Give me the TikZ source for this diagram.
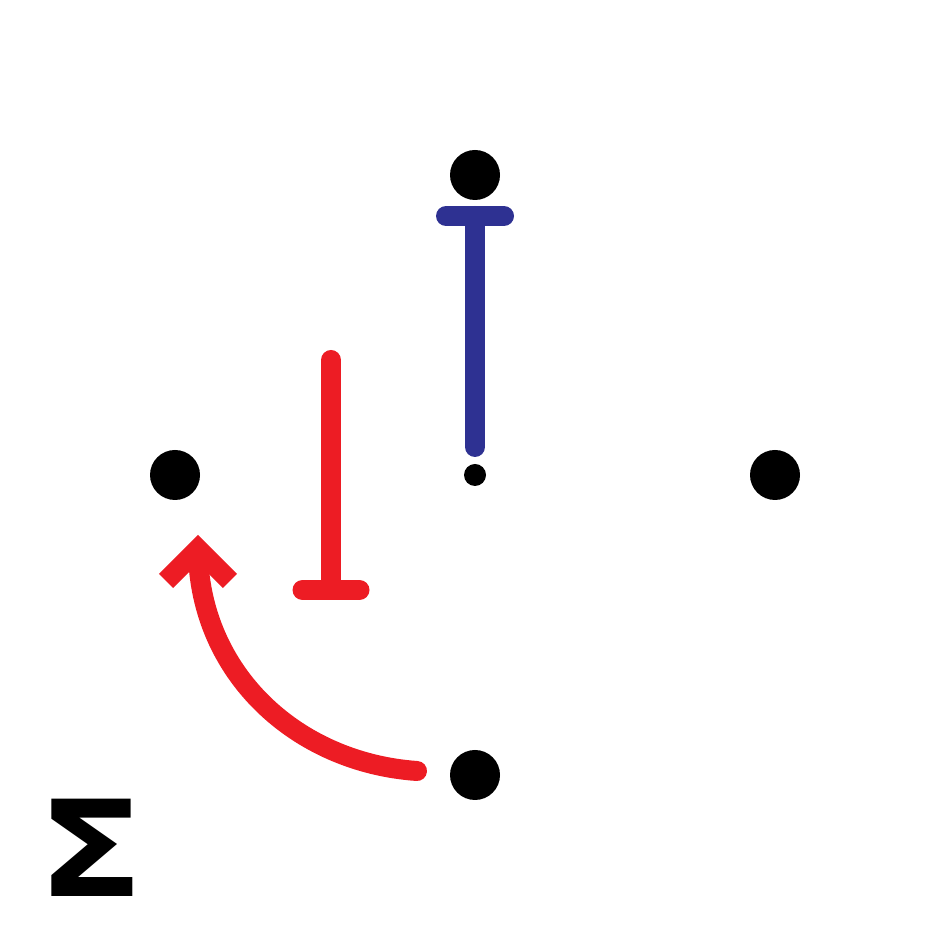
\documentclass[tikz,border=0pt]{standalone}
\usepackage{fontspec}
\newfontfamily\sigmafont{DejaVu Sans}
\usepackage{xcolor}
\usetikzlibrary{arrows.meta}
\definecolor{inhred}{HTML}{ED1C24}
\definecolor{inhblue}{HTML}{2E3192}

\begin{document}
\begin{tikzpicture}[dot/.style={shape=circle,fill=black,inner sep=0pt,minimum size=0.5cm},
redline/.style={draw=inhred,line width=0.2cm,line cap=round},
blueline/.style={draw=inhblue,line width=0.2cm,line cap=round}]
\useasboundingbox(0,0)rectangle(9.5,9.5);
\path(4.75,7.75)node[dot](top){}
(1.75,4.75)node[dot](left){}
(7.75,4.75)node[dot](right){}
(4.75,1.75)node[dot](bottom){}
(4.75,4.75)node[dot,minimum size=0.22cm](mid){}
(0.91,1.02)node[inner sep=0pt,xscale=1.17,font=\sigmafont\bfseries\fontsize{38}{40}\selectfont](sigma){Σ};
% blue bar from mid to top
\coordinate (bs) at (4.75,5.03);
\coordinate (be) at (4.75,7.34);
\draw[blueline](bs)--(be);
\draw[blueline]([xshift=-0.29cm]be)--([xshift=0.29cm]be);
% red bar
\coordinate (rs) at (3.31,5.90);
\coordinate (re) at (3.31,3.60);
\draw[redline](rs)--(re);
\draw[redline]([xshift=-0.285cm]re)--([xshift=0.285cm]re);
% red arrow from bottom to left
\coordinate (as) at (4.17,1.79);
\coordinate (ae) at (1.98,3.98);
\coordinate (tip) at (1.98,4.01);
\draw[redline](as)to[out=176,in=-89](ae);
\draw[draw=inhred,line width=0.2cm,line join=miter]([shift={(-0.32,-0.32)}]tip)--(tip)--([shift={(0.32,-0.32)}]tip);
\end{tikzpicture}
\end{document}
